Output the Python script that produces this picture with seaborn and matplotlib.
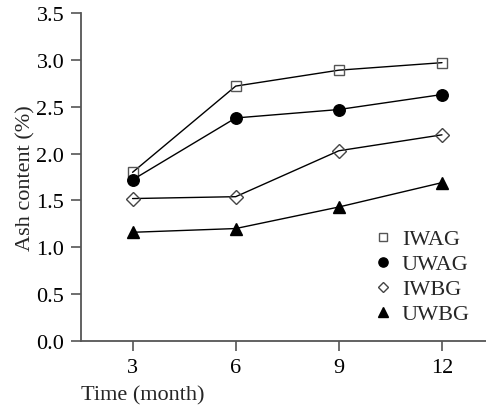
import matplotlib
matplotlib.use("Agg")
import matplotlib.pyplot as plt
from matplotlib.lines import Line2D
import seaborn as sns
import pandas as pd

months = [3, 6, 9, 12]
series_names = ["IWAG", "UWAG", "IWBG", "UWBG"]
iwag = [1.80, 2.72, 2.89, 2.97]
uwag = [1.72, 2.38, 2.47, 2.63]
iwbg = [1.52, 1.54, 2.03, 2.20]
uwbg = [1.16, 1.20, 1.43, 1.69]
yticks = [0.0, 0.5, 1.0, 1.5, 2.0, 2.5, 3.0, 3.5]

values = {"IWAG": iwag, "UWAG": uwag, "IWBG": iwbg, "UWBG": uwbg}
rows = []
for name in series_names:
    for m, v in zip(months, values[name]):
        rows.append({"Time": m, "Ash": v, "Series": name})
df = pd.DataFrame(rows)

sns.set_style("white")
plt.rcParams["font.family"] = ["Liberation Serif", "DejaVu Serif"]

fig = plt.figure(figsize=(4.86, 4.10), dpi=100)
ax = fig.add_axes([81 / 486, 1 - 342 / 410, 405 / 486, 328 / 410])

styles = {
    "IWAG": dict(marker="s", ms=7.5, mfc="none", mec="#555555", mew=1.0),
    "UWAG": dict(marker="o", ms=8.3, mfc="black", mec="black", mew=1.0),
    "IWBG": dict(marker="D", ms=7, mfc="none", mec="#444444", mew=1.0),
    "UWBG": dict(marker="^", ms=9, mfc="black", mec="black", mew=1.0),
}

for name in series_names:
    sub = df[df["Series"] == name]
    st = styles[name]
    sns.lineplot(data=sub, x="Time", y="Ash", ax=ax, color="black",
                 linewidth=1.0, legend=False, marker=st["marker"],
                 markersize=st["ms"], markerfacecolor=st["mfc"],
                 markeredgecolor=st["mec"], markeredgewidth=st["mew"])

ax.set_xlim(1.5, 13.28)
ax.set_ylim(0, 3.5)
ax.set_xticks(months)
ax.set_xticklabels([str(m) for m in months])
ax.set_yticks(yticks)
ax.set_yticklabels([f"{t:.1f}" for t in yticks])

for side in ["top", "right"]:
    ax.spines[side].set_visible(False)
for side in ["left", "bottom"]:
    ax.spines[side].set_color("#555555")
    ax.spines[side].set_linewidth(1.3)

ax.tick_params(axis="both", direction="out", length=7, width=1.2,
               color="#555555", labelsize=16, labelcolor="black", pad=5,
               left=True, bottom=True)

ax.set_ylabel("Ash content (%)", fontsize=16, labelpad=1)
ax.set_xlabel("Time (month)", fontsize=16, loc="left")
ax.xaxis.set_label_coords(0.0, -0.135)
ax.xaxis.label.set_horizontalalignment("left")

handles = []
for name in series_names:
    st = styles[name]
    handles.append(Line2D([], [], linestyle="none", marker=st["marker"],
                          markersize=st["ms"] * 0.8, markerfacecolor=st["mfc"],
                          markeredgecolor=st["mec"], markeredgewidth=st["mew"]))
ax.legend(handles, series_names, loc="upper left",
          bbox_to_anchor=(0.718, 0.342), bbox_transform=ax.transAxes,
          frameon=False, fontsize=16, handlelength=1.0, handletextpad=0.35,
          labelspacing=0.2, borderpad=0, borderaxespad=0)

fig.savefig("out.png", dpi=100)
